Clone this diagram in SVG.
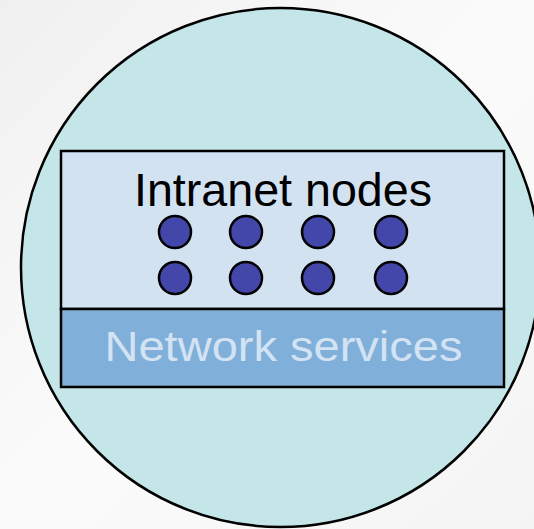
<svg xmlns="http://www.w3.org/2000/svg" width="534" height="529" viewBox="0 0 534 529">
  <defs>
    <linearGradient id="bg" x1="0" y1="0" x2="1" y2="1">
      <stop offset="0" stop-color="#f0f0f0"/>
      <stop offset="0.5" stop-color="#fbfbfb"/>
      <stop offset="1" stop-color="#f4f4f4"/>
    </linearGradient>
  </defs>
  <style>
    .node { fill: #4447aa; stroke: #000; stroke-width: 2.5; }
    .lbl { font-family: "Liberation Sans", Arial, sans-serif; text-anchor: middle; }
  </style>
  <rect x="0" y="0" width="534" height="529" fill="url(#bg)"/>
  <g id="intranet">
    <circle cx="280.5" cy="267.5" r="259.5" fill="#c4e6e8" stroke="#000" stroke-width="2.5"/>
  </g>
  <g id="nodes-box">
    <rect x="61" y="151" width="443" height="158" fill="#d2e2f1" stroke="#000" stroke-width="2.5"/>
    <text class="lbl" x="283" y="206" font-size="46" fill="#000" textLength="298" lengthAdjust="spacingAndGlyphs">Intranet nodes</text>
  </g>
  <g id="network-services">
    <rect x="61" y="309" width="443" height="78" fill="#80b0d9" stroke="#000" stroke-width="2.5"/>
    <text class="lbl" x="283.5" y="361" font-size="42" fill="#d3e3f3" textLength="358" lengthAdjust="spacingAndGlyphs">Network services</text>
  </g>
  <g id="node-dots">
    <circle class="node" cx="175" cy="232" r="16"/>
    <circle class="node" cx="246" cy="232" r="16"/>
    <circle class="node" cx="318" cy="232" r="16"/>
    <circle class="node" cx="391" cy="232" r="16"/>
    <circle class="node" cx="175" cy="278" r="16"/>
    <circle class="node" cx="246" cy="278" r="16"/>
    <circle class="node" cx="318" cy="278" r="16"/>
    <circle class="node" cx="391" cy="278" r="16"/>
  </g>
  <g id="connectors"/>
</svg>
